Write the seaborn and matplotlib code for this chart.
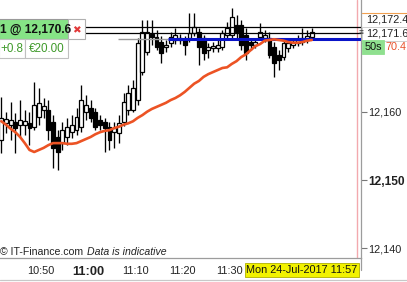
import numpy as np
import pandas as pd
import matplotlib
matplotlib.use("Agg")
import matplotlib.pyplot as plt
from matplotlib.lines import Line2D
from matplotlib.patches import Rectangle
import seaborn as sns

# ---- data (1-minute bars, minutes relative to 11:00) ----
opens = [12155.9, 12158.3, 12158.1, 12158.5, 12158.1, 12158.1, 12158.3, 12157.8, 12159.2, 12160.2,
         12160.2, 12158.5, 12156.3, 12155.4, 12156.3, 12157.0, 12157.3, 12157.8, 12160.0, 12160.5,
         12160.0, 12158.8, 12158.5, 12157.8, 12157.0, 12156.9, 12158.5, 12160.2, 12160.2, 12161.7,
         12165.8, 12168.7, 12171.4, 12170.9, 12170.2, 12169.5, 12170.1, 12170.5, 12170.5, 12170.5,
         12170.8, 12171.5, 12171.7, 12170.8, 12169.0, 12169.3, 12169.3, 12169.5, 12171.2, 12171.2,
         12172.7, 12172.7, 12171.2, 12170.2, 12169.8, 12170.9, 12170.8, 12170.8, 12169.5, 12168.3,
         12168.0, 12169.3, 12169.8, 12170.1, 12170.2, 12170.5, 12170.9]
highs = [12162.2, 12160.0, 12161.4, 12159.8, 12161.7, 12160.2, 12160.0, 12164.3, 12163.5, 12162.0,
         12161.7, 12159.5, 12157.3, 12158.5, 12159.1, 12159.5, 12160.5, 12163.9, 12162.4, 12161.7,
         12160.5, 12159.5, 12159.1, 12158.5, 12158.5, 12159.5, 12162.7, 12163.9, 12164.6, 12170.8,
         12173.4, 12173.4, 12173.4, 12172.0, 12171.1, 12170.5, 12171.7, 12172.3, 12171.4, 12171.1,
         12174.4, 12174.4, 12172.3, 12171.2, 12170.1, 12170.2, 12170.5, 12172.0, 12173.1, 12175.2,
         12174.2, 12173.4, 12172.3, 12170.8, 12170.8, 12173.0, 12172.0, 12171.7, 12170.2, 12169.0,
         12170.8, 12170.8, 12170.8, 12171.2, 12172.3, 12172.0, 12172.3]
lows = [12154.0, 12156.9, 12155.9, 12154.0, 12156.3, 12156.6, 12155.1, 12157.3, 12158.1, 12159.1,
        12155.9, 12151.8, 12151.5, 12154.4, 12155.1, 12156.1, 12156.6, 12157.0, 12158.8, 12158.5,
        12157.3, 12157.3, 12154.1, 12154.4, 12154.7, 12155.4, 12157.9, 12159.5, 12160.0, 12161.0,
        12165.4, 12168.3, 12169.8, 12169.0, 12167.1, 12168.7, 12169.5, 12169.9, 12169.9, 12168.3,
        12170.2, 12171.1, 12166.8, 12167.6, 12167.9, 12168.7, 12168.7, 12169.0, 12170.8, 12170.8,
        12170.8, 12169.0, 12167.6, 12169.0, 12169.3, 12170.5, 12170.2, 12167.9, 12165.1, 12166.1,
        12167.6, 12168.7, 12169.3, 12169.6, 12169.8, 12170.1, 12170.5]
closes = [12159.1, 12158.9, 12158.8, 12157.6, 12158.8, 12158.6, 12157.6, 12161.0, 12161.3, 12160.8,
          12157.3, 12154.7, 12154.1, 12157.3, 12157.8, 12158.1, 12159.2, 12161.7, 12161.0, 12159.1,
          12157.8, 12158.1, 12157.6, 12155.9, 12157.6, 12158.3, 12161.4, 12162.7, 12163.5, 12170.1,
          12171.7, 12171.7, 12170.9, 12169.5, 12168.6, 12169.8, 12170.9, 12171.2, 12170.8, 12169.8,
          12171.5, 12172.4, 12169.5, 12168.6, 12169.5, 12169.6, 12169.8, 12171.5, 12172.3, 12173.9,
          12171.7, 12169.8, 12168.6, 12169.8, 12170.2, 12171.7, 12171.2, 12168.3, 12167.1, 12167.6,
          12170.1, 12170.1, 12170.2, 12170.5, 12170.8, 12171.1, 12171.6]
moving_avg = [12158.6, 12158.1, 12157.5, 12157.0, 12156.3, 12155.4, 12154.4, 12154.1, 12154.4, 12154.7,
              12155.1, 12155.4, 12155.4, 12155.4, 12155.3, 12155.3, 12155.4, 12155.7, 12156.0, 12156.3,
              12156.7, 12157.0, 12157.2, 12157.3, 12157.6, 12157.8, 12158.1, 12158.3, 12158.6, 12159.1,
              12159.5, 12160.0, 12160.4, 12160.7, 12161.0, 12161.3, 12161.7, 12162.0, 12162.4, 12162.9,
              12163.5, 12164.1, 12164.5, 12165.1, 12165.5, 12165.8, 12166.1, 12166.4, 12166.5, 12167.0,
              12167.4, 12168.0, 12168.4, 12169.0, 12169.6, 12169.9, 12170.4, 12170.5, 12170.6, 12170.5,
              12170.4, 12170.2, 12170.1, 12170.1, 12170.2, 12170.4, 12170.5]
first_bar_minute = -18.5
xtick_minutes = [-10, 0, 10, 20, 30, 40, 50]
xtick_labels = ["10:50", "11:00", "11:10", "11:20", "11:30", "", ""]
ytick_values = [12140, 12150, 12160, 12170]
ytick_labels = ["12,140", "12,150", "12,160", ""]
position_price = 12170.6
level_prices = [12172.4, 12171.5]
now_minute = 57
date_label = "Mon 24-Jul-2017 11:57"

sns.set_style("white")
plt.rcParams["font.family"] = ["Liberation Sans", "DejaVu Sans"]

W, H = 407, 282
fig = plt.figure(figsize=(W / 100, H / 100), dpi=100)
fig.patch.set_facecolor("white")

def fx(px):
    return px / W

def fy(py):
    return 1 - py / H

ax = fig.add_axes([0, fy(258), fx(361), 258 / H])
ax.set_facecolor("white")

n = len(opens)
df = pd.DataFrame({"minute": first_bar_minute + np.arange(n), "open": opens, "high": highs,
                   "low": lows, "close": closes, "ma": moving_avg})
df["up"] = df["close"] >= df["open"]

# wicks
ax.vlines(df["minute"], df["low"], df["high"], color="black", lw=0.95, zorder=2)
# bodies
body_bottom = np.minimum(df["open"], df["close"])
body_h = np.abs(df["close"] - df["open"]).clip(lower=0.15)
ax.bar(df["minute"], body_h, bottom=body_bottom, width=0.82,
       color=np.where(df["up"], "white", "black"), edgecolor="black", linewidth=0.9, zorder=3)

# price level lines
ax.hlines(level_prices, -0.7, 58.5, color="black", lw=0.9, zorder=4)
ax.hlines(position_price, 6.3, 16.9, color="#9a9a9a", lw=1.0, zorder=4)
ax.hlines(position_price, 16.9, 58.5, color="#0a14c8", lw=2.2, zorder=5)

# moving average
sns.lineplot(data=df, x="minute", y="ma", color="#ec5324", lw=1.9, ax=ax, zorder=6, legend=False)

# current time cursor
ax.axvline(now_minute + 0.15, color="#f3a9ae", lw=1.0, zorder=1)

ax.set_xlim((0 - 88.3) / 4.705, (361 - 88.3) / 4.705)
ax.set_ylim(12150 - 78 / 6.83, 12150 + 180 / 6.83)
ax.set_xlabel("")
ax.set_ylabel("")

for s in ["top", "left"]:
    ax.spines[s].set_visible(False)
for s in ["bottom", "right"]:
    ax.spines[s].set_color("#9c9c9c")
    ax.spines[s].set_linewidth(0.9)

ax.set_xticks(xtick_minutes)
ax.set_xticklabels(xtick_labels)
ax.tick_params(axis="x", length=3, width=0.8, color="#777777", pad=2.5, labelsize=7.8, labelcolor="#222222")
for lab in ax.get_xticklabels():
    if lab.get_text() == "11:00":
        lab.set_fontweight("bold")
        lab.set_fontsize(9.3)

ax.yaxis.tick_right()
ax.set_yticks(ytick_values)
ax.set_yticklabels(ytick_labels)
ax.tick_params(axis="y", length=4, width=0.8, color="#777777", pad=1.5, labelsize=7.8, labelcolor="#222222")
for lab in ax.get_yticklabels():
    if lab.get_text() == "12,150":
        lab.set_fontweight("bold")
        lab.set_fontsize(8.6)

# extra frame lines
fig.add_artist(Line2D([fx(361), fx(361)], [fy(258), fy(270)], color="#9c9c9c", lw=0.9))
fig.add_artist(Line2D([0, 1], [fy(279.5), fy(279.5)], color="#c8c8c8", lw=0.9))

# copyright
fig.text(fx(0), fy(252), "© IT-Finance.com", fontsize=7.6, color="#222222", va="center", ha="left")
fig.text(fx(87), fy(252), "Data is indicative", fontsize=7.6, color="#222222", va="center", ha="left",
         style="italic")

# date label
fig.text(fx(302), fy(270), date_label, fontsize=7.8, color="#111111", ha="center", va="center",
         bbox=dict(boxstyle="square,pad=0.15", fc="#f2f200", ec="#b0b000", lw=0.6), zorder=10)

# top-left order box
fig.add_artist(Rectangle((fx(-1), fy(39)), fx(69), 20 / H, fc="#86e386", ec="#9a9a9a", lw=0.8))
fig.add_artist(Rectangle((fx(68), fy(39)), fx(17), 20 / H, fc="white", ec="#b0b0b0", lw=0.8))
fig.add_artist(Rectangle((fx(-1), fy(58)), fx(26), 19 / H, fc="white", ec="#c0c0c0", lw=0.8))
fig.add_artist(Rectangle((fx(25), fy(58)), fx(43), 19 / H, fc="white", ec="#c0c0c0", lw=0.8))
fig.text(fx(0), fy(29.5), "1 @ 12,170.6", fontsize=8.6, fontweight="bold", color="#111111",
         ha="left", va="center")
fig.text(fx(76.5), fy(30), "✖", fontsize=7.5, color="#e23a3a", ha="center", va="center",
         family=["DejaVu Sans"])
fig.text(fx(0), fy(49), "+0.8", fontsize=8.4, color="#3f9a2a", ha="left", va="center")
fig.text(fx(29), fy(49), "€20.00", fontsize=8.4, color="#3f9a2a", ha="left", va="center")

# right-side labels
fig.add_artist(Line2D([fx(362), 1], [fy(13), fy(13)], color="#f0a050", lw=0.8))
fig.text(fx(366), fy(19.5), "12,172.4", fontsize=7.8, color="#222222", ha="left", va="center")
fig.add_artist(Rectangle((fx(362), fy(41)), fx(45), 14 / H, fc="white", ec="#c8c8c8", lw=0.6))
fig.text(fx(358.5), fy(34), "≡", fontsize=6, color="#333333", ha="left", va="center")
fig.text(fx(366), fy(34), "12,171.6", fontsize=7.8, color="#222222", ha="left", va="center")
fig.text(fx(386), fy(46.5), "70.4", fontsize=7.8, color="#e8502a", ha="left", va="center")
fig.add_artist(Rectangle((fx(362), fy(54)), fx(22), 14 / H, fc="#8fe08f", ec="#8fe08f", lw=0.6))
fig.text(fx(373), fy(47), "50s", fontsize=7.8, color="#111111", ha="center", va="center")

fig.savefig("out.png", dpi=100, facecolor="white")
